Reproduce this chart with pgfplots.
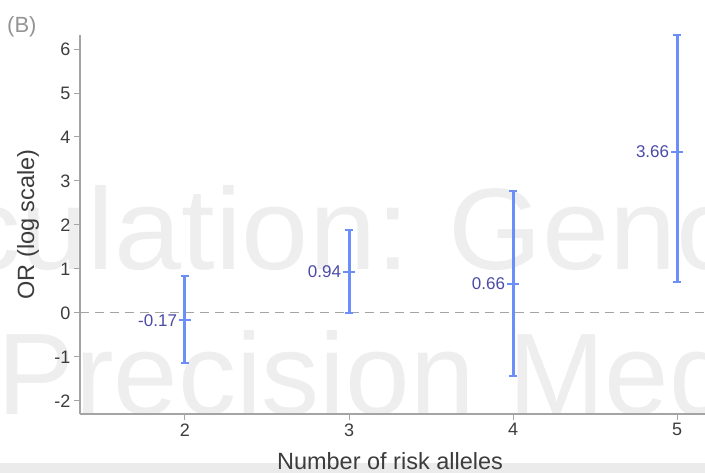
\documentclass[border=0pt]{standalone}
\usepackage{pgfplots}
\pgfplotsset{compat=1.18}
\usepackage{pgfplotstable}
\usepackage{fontspec}
\setmainfont{Liberation Sans}

\definecolor{barblue}{HTML}{6C8EF8}
\definecolor{labelblue}{HTML}{4B4BA6}
\definecolor{axisgray}{HTML}{A4A4A4}
\definecolor{ticktext}{HTML}{3C3C3C}
\definecolor{wmgray}{HTML}{EEEEEE}

% log OR estimate with upper (ep) and lower (em) distances of the 95% CI
\pgfplotstableread{
x y    ep   em   label
2 -0.17 1.01 0.97 -0.17
3 0.94  0.95 0.94 0.94
4 0.66  2.11 2.09 0.66
5 3.66  2.67 2.95 3.66
}\ortable

\begin{document}
\begin{tikzpicture}[x=1pt,y=1pt]
\path[use as bounding box, clip] (0,0) rectangle (705,473);

% journal watermark
\tikzset{wm/.style={inner sep=0, text=wmgray, font=\fontsize{116}{116}\selectfont}}
\node[wm, anchor=base east, xscale=1.04] at (410,203) {Circulation:};
\node[wm, anchor=base west, xscale=1.04] at (448,203) {Genomic};
\node[wm, anchor=base east] at (475,58) {Precision};
\node[wm, anchor=base west] at (508,58) {Medicine};

% bottom strip
\fill[black!8] (0,0) rectangle (705,10);

% panel tag
\node[anchor=base west, inner sep=0, text=black!42, font=\fontsize{22}{22}\selectfont]
  at (7,440) {(B)};

\begin{axis}[
  at={(80pt,59pt)}, anchor=south west,
  scale only axis, width=625pt, height=379pt,
  xmin=1.36, xmax=5.17, ymin=-2.30, ymax=6.32,
  axis x line*=bottom, axis y line*=left,
  axis line style={axisgray, line width=1.5pt, -},
  xtick={2,3,4,5}, ytick={-2,-1,0,1,2,3,4,5,6},
  tick align=outside, major tick length=6pt,
  tick style={axisgray, line width=1pt},
  tick label style={font=\fontsize{18}{18}\selectfont, text=ticktext},
  /pgf/number format/assume math mode=true,
  xlabel={Number of risk alleles},
  ylabel={OR (log scale)},
  label style={font=\fontsize{23.5}{23.5}\selectfont, text=ticktext},
  xlabel style={at={(axis description cs:0.496,0)}, anchor=base, yshift=-56pt},
  ylabel style={at={(axis description cs:-0.0832,0.5)}, anchor=center},
  clip=false,
]
  % reference line at log OR = 0
  \draw[axisgray, line width=1.2pt, dash pattern=on 9pt off 6pt]
    (axis cs:1.36,0) -- (axis cs:5.17,0);

  \addplot[
    only marks, mark=-, mark size=6pt,
    mark options={barblue, line width=2pt},
    nodes near coords, point meta=explicit symbolic,
    every node near coord/.append style={anchor=east, inner sep=0pt, xshift=-7pt,
      font=\fontsize{17}{17}\selectfont, text=labelblue},
    error bars/.cd, y dir=both, y explicit,
      error bar style={barblue, line width=3pt},
      error mark=|, error mark options={barblue, line width=2pt, mark size=4pt},
  ] table[x=x, y=y, y error plus=ep, y error minus=em, meta=label] \ortable;
\end{axis}
\end{tikzpicture}
\end{document}
